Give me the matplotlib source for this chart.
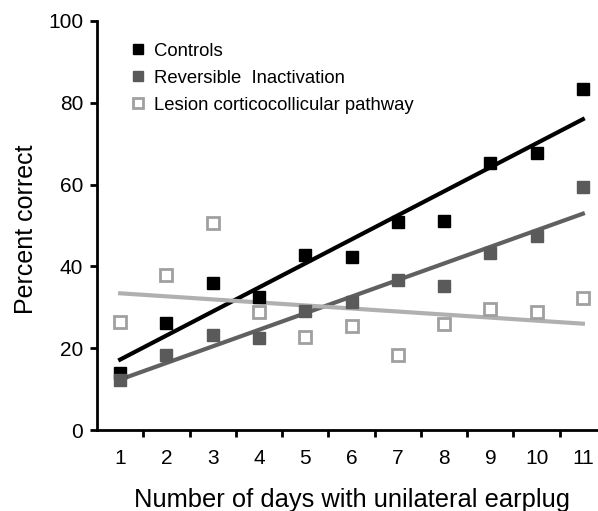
import matplotlib
matplotlib.use('Agg')
import matplotlib.pyplot as plt
import numpy as np

plt.rcParams['font.family'] = ['Liberation Sans', 'DejaVu Sans']

# ******************* data *******************
days = np.arange(1, 12)
controls = [14.0, 26.2, 36.0, 32.6, 42.8, 42.4, 50.9, 51.2, 65.4, 67.8, 83.3]
reversible = [12.2, 18.3, 23.2, 22.4, 29.2, 31.4, 36.7, 35.2, 43.2, 47.4, 59.5]
lesion = [26.5, 37.9, 50.7, 28.8, 22.7, 25.5, 18.3, 25.9, 29.5, 28.8, 32.2]

labels = ['Controls', 'Reversible  Inactivation', 'Lesion corticocollicular pathway']

fig = plt.figure(figsize=(5.98, 5.11), dpi=100)
ax = fig.add_axes([97/598, 81/511, 509/598, 409/511])

# linear trend lines
for y, c in [(controls, '#000000'), (reversible, '#606060'), (lesion, '#b0b0b0')]:
    p = np.polyfit(days, y, 1)
    ax.plot(days, np.polyval(p, days), color=c, linewidth=3, zorder=2)

ax.plot(days, controls, 's', color='#000000', markersize=8.5, zorder=3, label=labels[0])
ax.plot(days, reversible, 's', color='#5a5a5a', markersize=8.5, zorder=3, label=labels[1])
ax.plot(days, lesion, 's', markerfacecolor='white', markeredgecolor='#a0a0a0',
        markeredgewidth=2, markersize=8.5, zorder=3, label=labels[2])

ax.set_xlim(0.5, 11.5)
ax.set_ylim(0, 100)
ax.set_yticks([0, 20, 40, 60, 80, 100])
ax.set_xticks(days)
ax.set_xticks(np.arange(1.5, 11, 1), minor=True)
ax.tick_params(axis='x', which='major', length=0, pad=14, labelsize=15)
ax.tick_params(axis='x', which='minor', length=5, width=2, direction='out')
ax.tick_params(axis='y', length=5, width=2, labelsize=15, pad=5)

for s in ['top', 'right']:
    ax.spines[s].set_visible(False)
for s in ['left', 'bottom']:
    ax.spines[s].set_linewidth(2)

ax.set_ylabel('Percent correct', fontsize=18)
ax.yaxis.set_label_coords(-0.115, 0.49)
ax.set_xlabel('Number of days with unilateral earplug', fontsize=18.4, labelpad=14)

leg = ax.legend(loc='upper left', bbox_to_anchor=(0.051, 0.965), frameon=False,
                fontsize=13.3, handlelength=0.8, handletextpad=0.5,
                labelspacing=0.54, markerscale=0.9, borderaxespad=0)

fig.savefig('out.png', dpi=100)
